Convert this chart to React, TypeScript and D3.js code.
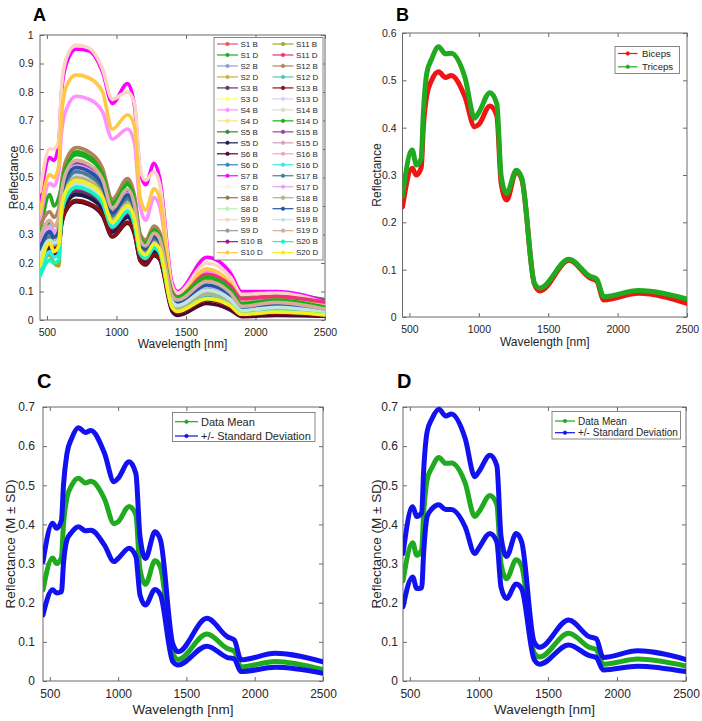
import { useEffect, useRef } from 'react';
import * as d3 from 'd3';

// ---- panel A: every subject / site spectrum ----
const wavelengthsA = [450, 520, 550, 585, 605, 640, 710, 800, 900, 970, 1080, 1130, 1170, 1210, 1270, 1310, 1400, 1440, 1650, 1820, 1900, 2150, 2500];

const seriesNamesA = [
  'S1 B', 'S1 D', 'S2 B', 'S2 D', 'S3 B', 'S3 D', 'S4 B', 'S4 D', 'S5 B', 'S5 D',
  'S6 B', 'S6 D', 'S7 B', 'S7 D', 'S8 B', 'S8 D', 'S9 B', 'S9 D', 'S10 B', 'S10 D',
  'S11 B', 'S11 D', 'S12 B', 'S12 D', 'S13 B', 'S13 D', 'S14 B', 'S14 D', 'S15 B', 'S15 D',
  'S16 B', 'S16 D', 'S17 B', 'S17 D', 'S18 B', 'S18 D', 'S19 B', 'S19 D', 'S20 B', 'S20 D',
];

const reflectanceA = [
  [0.24, 0.32, 0.30, 0.32, 0.432, 0.502, 0.54, 0.527, 0.475, 0.378, 0.443, 0.389, 0.27, 0.251, 0.294, 0.275, 0.085, 0.07, 0.135, 0.095, 0.048, 0.062, 0.038],
  [0.30, 0.44, 0.40, 0.43, 0.472, 0.549, 0.59, 0.575, 0.519, 0.413, 0.484, 0.425, 0.295, 0.274, 0.322, 0.301, 0.11, 0.095, 0.16, 0.125, 0.085, 0.09, 0.072],
  [0.24, 0.31, 0.29, 0.31, 0.40, 0.465, 0.50, 0.488, 0.44, 0.35, 0.41, 0.36, 0.25, 0.233, 0.273, 0.255, 0.066, 0.051, 0.106, 0.072, 0.034, 0.046, 0.027],
  [0.23, 0.30, 0.28, 0.31, 0.416, 0.484, 0.52, 0.507, 0.458, 0.364, 0.426, 0.374, 0.26, 0.242, 0.283, 0.265, 0.064, 0.049, 0.104, 0.071, 0.032, 0.044, 0.026],
  [0.20, 0.25, 0.24, 0.25, 0.36, 0.419, 0.45, 0.439, 0.396, 0.315, 0.369, 0.324, 0.225, 0.209, 0.245, 0.23, 0.045, 0.03, 0.075, 0.05, 0.02, 0.028, 0.018],
  [0.20, 0.26, 0.25, 0.26, 0.384, 0.446, 0.48, 0.468, 0.422, 0.336, 0.394, 0.346, 0.24, 0.223, 0.262, 0.245, 0.056, 0.041, 0.091, 0.061, 0.027, 0.037, 0.022],
  [0.35, 0.48, 0.47, 0.52, 0.66, 0.74, 0.785, 0.775, 0.73, 0.635, 0.67, 0.62, 0.40, 0.35, 0.43, 0.40, 0.12, 0.09, 0.17, 0.125, 0.07, 0.075, 0.055],
  [0.22, 0.29, 0.28, 0.29, 0.404, 0.47, 0.505, 0.492, 0.444, 0.354, 0.414, 0.364, 0.253, 0.235, 0.275, 0.258, 0.065, 0.05, 0.105, 0.072, 0.033, 0.045, 0.027],
  [0.19, 0.25, 0.23, 0.24, 0.376, 0.437, 0.47, 0.458, 0.414, 0.329, 0.385, 0.338, 0.235, 0.219, 0.256, 0.24, 0.054, 0.039, 0.089, 0.059, 0.026, 0.035, 0.021],
  [0.19, 0.24, 0.23, 0.24, 0.352, 0.409, 0.44, 0.429, 0.387, 0.308, 0.361, 0.317, 0.22, 0.205, 0.24, 0.224, 0.044, 0.029, 0.073, 0.049, 0.019, 0.027, 0.017],
  [0.20, 0.25, 0.24, 0.25, 0.332, 0.386, 0.415, 0.405, 0.365, 0.291, 0.34, 0.299, 0.208, 0.193, 0.226, 0.212, 0.03, 0.016, 0.058, 0.035, 0.012, 0.016, 0.013],
  [0.23, 0.30, 0.28, 0.30, 0.408, 0.474, 0.51, 0.497, 0.449, 0.357, 0.418, 0.367, 0.255, 0.237, 0.278, 0.26, 0.067, 0.052, 0.108, 0.074, 0.035, 0.047, 0.028],
  [0.41, 0.57, 0.56, 0.62, 0.80, 0.90, 0.95, 0.945, 0.87, 0.76, 0.83, 0.75, 0.52, 0.475, 0.55, 0.50, 0.13, 0.10, 0.22, 0.165, 0.10, 0.10, 0.065],
  [0.27, 0.33, 0.32, 0.34, 0.44, 0.512, 0.55, 0.536, 0.484, 0.385, 0.451, 0.396, 0.275, 0.256, 0.30, 0.281, 0.075, 0.06, 0.12, 0.083, 0.04, 0.053, 0.032],
  [0.21, 0.27, 0.25, 0.27, 0.384, 0.446, 0.48, 0.468, 0.422, 0.336, 0.394, 0.346, 0.24, 0.223, 0.262, 0.245, 0.055, 0.04, 0.09, 0.06, 0.027, 0.036, 0.022],
  [0.24, 0.31, 0.29, 0.31, 0.416, 0.484, 0.52, 0.507, 0.458, 0.364, 0.426, 0.374, 0.26, 0.242, 0.283, 0.265, 0.074, 0.059, 0.118, 0.082, 0.039, 0.052, 0.031],
  [0.45, 0.60, 0.60, 0.63, 0.82, 0.92, 0.965, 0.955, 0.88, 0.775, 0.80, 0.76, 0.53, 0.49, 0.52, 0.48, 0.12, 0.095, 0.20, 0.15, 0.09, 0.095, 0.06],
  [0.21, 0.28, 0.26, 0.28, 0.392, 0.456, 0.49, 0.478, 0.431, 0.343, 0.402, 0.353, 0.245, 0.228, 0.267, 0.25, 0.057, 0.042, 0.092, 0.062, 0.028, 0.038, 0.023],
  [0.20, 0.26, 0.24, 0.25, 0.368, 0.428, 0.46, 0.449, 0.405, 0.322, 0.377, 0.331, 0.23, 0.214, 0.251, 0.235, 0.053, 0.038, 0.088, 0.058, 0.025, 0.034, 0.021],
  [0.37, 0.51, 0.50, 0.54, 0.72, 0.82, 0.86, 0.85, 0.80, 0.67, 0.72, 0.68, 0.43, 0.385, 0.46, 0.43, 0.10, 0.08, 0.18, 0.13, 0.075, 0.08, 0.045],
  [0.18, 0.23, 0.20, 0.19, 0.376, 0.437, 0.47, 0.458, 0.414, 0.329, 0.385, 0.338, 0.235, 0.219, 0.256, 0.24, 0.056, 0.041, 0.091, 0.061, 0.028, 0.037, 0.023],
  [0.25, 0.30, 0.29, 0.31, 0.424, 0.493, 0.53, 0.517, 0.466, 0.371, 0.435, 0.382, 0.265, 0.246, 0.289, 0.27, 0.10, 0.08, 0.16, 0.12, 0.075, 0.082, 0.062],
  [0.33, 0.38, 0.36, 0.39, 0.484, 0.563, 0.605, 0.59, 0.532, 0.424, 0.496, 0.436, 0.303, 0.281, 0.33, 0.309, 0.088, 0.072, 0.138, 0.097, 0.05, 0.064, 0.04],
  [0.21, 0.28, 0.27, 0.28, 0.396, 0.46, 0.495, 0.483, 0.436, 0.347, 0.406, 0.356, 0.248, 0.23, 0.27, 0.252, 0.063, 0.048, 0.103, 0.07, 0.032, 0.044, 0.026],
  [0.21, 0.26, 0.25, 0.26, 0.336, 0.391, 0.42, 0.41, 0.37, 0.294, 0.344, 0.302, 0.21, 0.195, 0.229, 0.214, 0.04, 0.025, 0.07, 0.045, 0.017, 0.024, 0.016],
  [0.25, 0.31, 0.30, 0.31, 0.408, 0.474, 0.51, 0.497, 0.449, 0.357, 0.418, 0.367, 0.255, 0.237, 0.278, 0.26, 0.073, 0.058, 0.117, 0.081, 0.039, 0.051, 0.031],
  [0.23, 0.29, 0.28, 0.30, 0.40, 0.465, 0.50, 0.488, 0.44, 0.35, 0.41, 0.36, 0.25, 0.233, 0.273, 0.255, 0.065, 0.05, 0.105, 0.072, 0.033, 0.045, 0.027],
  [0.26, 0.34, 0.30, 0.33, 0.464, 0.539, 0.58, 0.566, 0.51, 0.406, 0.476, 0.418, 0.29, 0.27, 0.316, 0.296, 0.095, 0.08, 0.15, 0.107, 0.058, 0.07, 0.045],
  [0.25, 0.31, 0.30, 0.31, 0.44, 0.512, 0.55, 0.536, 0.484, 0.385, 0.451, 0.396, 0.275, 0.256, 0.30, 0.281, 0.076, 0.061, 0.121, 0.084, 0.041, 0.054, 0.033],
  [0.22, 0.29, 0.27, 0.29, 0.392, 0.456, 0.49, 0.478, 0.431, 0.343, 0.402, 0.353, 0.245, 0.228, 0.267, 0.25, 0.064, 0.049, 0.104, 0.071, 0.032, 0.044, 0.026],
  [0.26, 0.32, 0.30, 0.32, 0.424, 0.493, 0.53, 0.517, 0.466, 0.371, 0.435, 0.382, 0.265, 0.246, 0.289, 0.27, 0.077, 0.062, 0.122, 0.085, 0.042, 0.055, 0.034],
  [0.17, 0.24, 0.22, 0.23, 0.376, 0.437, 0.47, 0.458, 0.414, 0.329, 0.385, 0.338, 0.235, 0.219, 0.256, 0.24, 0.055, 0.04, 0.09, 0.06, 0.027, 0.036, 0.022],
  [0.22, 0.29, 0.27, 0.29, 0.416, 0.484, 0.52, 0.507, 0.458, 0.364, 0.426, 0.374, 0.26, 0.242, 0.283, 0.265, 0.066, 0.051, 0.106, 0.073, 0.034, 0.046, 0.028],
  [0.26, 0.33, 0.31, 0.33, 0.432, 0.502, 0.54, 0.527, 0.475, 0.378, 0.443, 0.389, 0.27, 0.251, 0.294, 0.275, 0.075, 0.06, 0.12, 0.083, 0.04, 0.053, 0.032],
  [0.22, 0.28, 0.27, 0.29, 0.40, 0.465, 0.50, 0.488, 0.44, 0.35, 0.41, 0.36, 0.25, 0.233, 0.273, 0.255, 0.058, 0.043, 0.093, 0.063, 0.029, 0.039, 0.024],
  [0.25, 0.31, 0.29, 0.31, 0.428, 0.498, 0.535, 0.522, 0.471, 0.375, 0.439, 0.385, 0.268, 0.249, 0.292, 0.273, 0.078, 0.063, 0.123, 0.086, 0.042, 0.055, 0.033],
  [0.22, 0.28, 0.27, 0.28, 0.384, 0.446, 0.48, 0.468, 0.422, 0.336, 0.394, 0.346, 0.24, 0.223, 0.262, 0.245, 0.065, 0.05, 0.105, 0.072, 0.033, 0.045, 0.027],
  [0.29, 0.35, 0.33, 0.36, 0.448, 0.521, 0.56, 0.546, 0.493, 0.392, 0.459, 0.403, 0.28, 0.26, 0.305, 0.286, 0.085, 0.07, 0.135, 0.095, 0.048, 0.062, 0.038],
  [0.155, 0.21, 0.20, 0.21, 0.372, 0.432, 0.465, 0.453, 0.409, 0.326, 0.381, 0.335, 0.233, 0.216, 0.253, 0.237, 0.046, 0.031, 0.076, 0.051, 0.021, 0.029, 0.019],
  [0.19, 0.27, 0.24, 0.26, 0.392, 0.456, 0.49, 0.478, 0.431, 0.343, 0.402, 0.353, 0.245, 0.228, 0.267, 0.25, 0.045, 0.03, 0.075, 0.05, 0.02, 0.028, 0.018],
];

// ---- panels B-D: group means and +/- SD ----
const wavelengths = [450, 520, 550, 585, 600, 625, 660, 710, 760, 800, 900, 970, 1000, 1080, 1130, 1160, 1200, 1270, 1310, 1400, 1440, 1650, 1800, 1850, 1900, 2150, 2500];
const biceps = [0.233, 0.314, 0.3, 0.316, 0.4, 0.468, 0.5, 0.518, 0.506, 0.51, 0.465, 0.402, 0.407, 0.446, 0.425, 0.285, 0.247, 0.307, 0.29, 0.07, 0.055, 0.12, 0.083, 0.076, 0.036, 0.05, 0.029];
const triceps = [0.256, 0.353, 0.321, 0.335, 0.43, 0.515, 0.545, 0.571, 0.556, 0.557, 0.506, 0.42, 0.432, 0.474, 0.45, 0.3, 0.261, 0.31, 0.293, 0.072, 0.061, 0.122, 0.086, 0.08, 0.043, 0.056, 0.038];
const bicepsUpper = [0.305, 0.403, 0.39, 0.41, 0.5, 0.58, 0.62, 0.647, 0.635, 0.64, 0.582, 0.509, 0.518, 0.56, 0.53, 0.37, 0.313, 0.381, 0.36, 0.095, 0.075, 0.16, 0.113, 0.105, 0.054, 0.071, 0.049];
const bicepsLower = [0.169, 0.233, 0.225, 0.228, 0.3, 0.36, 0.38, 0.394, 0.384, 0.385, 0.347, 0.305, 0.313, 0.339, 0.318, 0.22, 0.194, 0.234, 0.22, 0.05, 0.041, 0.089, 0.06, 0.056, 0.024, 0.035, 0.02];
const tricepsUpper = [0.326, 0.445, 0.42, 0.43, 0.54, 0.637, 0.67, 0.694, 0.677, 0.682, 0.62, 0.522, 0.535, 0.577, 0.55, 0.37, 0.318, 0.377, 0.355, 0.1, 0.086, 0.156, 0.113, 0.108, 0.06, 0.077, 0.055];
const tricepsLower = [0.19, 0.266, 0.236, 0.238, 0.33, 0.42, 0.44, 0.45, 0.438, 0.438, 0.394, 0.326, 0.34, 0.377, 0.355, 0.24, 0.211, 0.248, 0.235, 0.055, 0.043, 0.092, 0.065, 0.06, 0.028, 0.038, 0.024];

const xTicks = [500, 1000, 1500, 2000, 2500];
const yTicksA = [0, 0.1, 0.2, 0.3, 0.4, 0.5, 0.6, 0.7, 0.8, 0.9, 1];
const yTicksB = [0, 0.1, 0.2, 0.3, 0.4, 0.5, 0.6];
const yTicksCD = [0, 0.1, 0.2, 0.3, 0.4, 0.5, 0.6, 0.7];

const PALETTE_A = [
  '#e8575a', '#22a822', '#9a9ad6', '#c8b04a', '#5a3a5e', '#ffff70', '#ff90ff', '#ffe080', '#3f7f3f', '#1c1c52',
  '#4a0634', '#2f87b5', '#ff00ff', '#f6f3ec', '#8c7a48', '#b8f2b8', '#fbd4c4', '#9a9a9a', '#a01882', '#ffc847',
  '#a0a828', '#f0307a', '#b08258', '#52c8b0', '#8a1010', '#d2d2fa', '#dcdcc0', '#18b018', '#9a40a0', '#d4a2b4',
  '#f7a0c8', '#30e8f0', '#4a7e8e', '#e4a0f8', '#b2b282', '#2454a8', '#c0e4e4', '#d4ae98', '#10f8c0', '#f4f020',
];
const RED = '#f01414';
const GREEN = '#1faa1f';
const BLUE = '#1212f0';
const FONT = '"Liberation Sans", Arial, Helvetica, sans-serif';
const INK = '#262626';
const FRAME = '#6a6a6a';

type Sel = d3.Selection<SVGGElement, unknown, null, undefined>;

interface PanelSpec {
  id: string;
  letter: string;
  letterX: number;
  letterY: number;
  letterSize: number;
  left: number;
  right: number;
  top: number;
  bottom: number;
  yMax: number;
  yTicks: number[];
  tickFont: number;
  labelFont: number;
  xPad: number;
  yPad: number;
  yLabel: string;
  yLabelX: number;
  xLabelY: number;
}

function drawFrame(root: d3.Selection<SVGSVGElement, unknown, null, undefined>, p: PanelSpec) {
  const x = d3.scaleLinear().domain([450, 2500]).range([p.left, p.right]);
  const y = d3.scaleLinear().domain([0, p.yMax]).range([p.bottom, p.top]);
  const g = root.append('g');

  g.append('clipPath')
    .attr('id', `clip-${p.id}`)
    .append('rect')
    .attr('x', p.left)
    .attr('y', p.top - 2)
    .attr('width', p.right - p.left)
    .attr('height', p.bottom - p.top + 2);

  const fmt = (d: d3.NumberValue) => String(+d);
  const style = (a: Sel) => {
    a.select('.domain').remove();
    a.selectAll('line').attr('stroke', FRAME);
    a.selectAll('text').attr('fill', INK).style('font-family', FONT).style('font-size', `${p.tickFont}px`);
  };

  g.append('g')
    .attr('transform', `translate(0,${p.bottom})`)
    .call(d3.axisBottom(x).tickValues(xTicks).tickSizeInner(-4).tickSizeOuter(0).tickPadding(p.xPad).tickFormat(fmt))
    .call(style);
  g.append('g')
    .attr('transform', `translate(0,${p.top})`)
    .call(d3.axisTop(x).tickValues(xTicks).tickSizeInner(-4).tickSizeOuter(0).tickFormat(() => ''))
    .call(style);
  g.append('g')
    .attr('transform', `translate(${p.left},0)`)
    .call(d3.axisLeft(y).tickValues(p.yTicks).tickSizeInner(-4).tickSizeOuter(0).tickPadding(p.yPad).tickFormat(fmt))
    .call(style);
  g.append('g')
    .attr('transform', `translate(${p.right},0)`)
    .call(d3.axisRight(y).tickValues(p.yTicks).tickSizeInner(-4).tickSizeOuter(0).tickFormat(() => ''))
    .call(style);

  g.append('rect')
    .attr('x', p.left)
    .attr('y', p.top)
    .attr('width', p.right - p.left)
    .attr('height', p.bottom - p.top)
    .attr('fill', 'none')
    .attr('stroke', FRAME)
    .attr('stroke-width', 1);

  g.append('text')
    .attr('x', (p.left + p.right) / 2)
    .attr('y', p.xLabelY)
    .attr('text-anchor', 'middle')
    .attr('fill', INK)
    .style('font-family', FONT)
    .style('font-size', `${p.labelFont}px`)
    .text('Wavelength [nm]');

  g.append('text')
    .attr('transform', `translate(${p.yLabelX},${(p.top + p.bottom) / 2}) rotate(-90)`)
    .attr('text-anchor', 'middle')
    .attr('fill', INK)
    .style('font-family', FONT)
    .style('font-size', `${p.labelFont}px`)
    .text(p.yLabel);

  g.append('text')
    .attr('x', p.letterX)
    .attr('y', p.letterY)
    .attr('fill', '#000')
    .style('font-family', FONT)
    .style('font-weight', 'bold')
    .style('font-size', `${p.letterSize}px`)
    .text(p.letter);

  const plot = g.append('g').attr('clip-path', `url(#clip-${p.id})`);
  return { x, y, g, plot };
}

function drawSeries(plot: Sel, x: d3.ScaleLinear<number, number>, y: d3.ScaleLinear<number, number>, wl: number[], values: number[], color: string, width: number) {
  const line = d3
    .line<number>()
    .x((_, i) => x(wl[i]))
    .y((d) => y(d))
    .curve(d3.curveMonotoneX);
  plot.append('path')
    .datum(values)
    .attr('fill', 'none')
    .attr('stroke', color)
    .attr('stroke-width', width)
    .attr('stroke-linejoin', 'round')
    .attr('stroke-linecap', 'round')
    .attr('d', line);
}

interface LegendLayout {
  boxX: number;
  boxY: number;
  boxW: number;
  boxH: number;
  rowY0: number;
  rowStep: number;
  rowsPerCol: number;
  colX: number[];
  lineLen: number;
  textGap: number;
  font: number;
}

function drawLegend(g: Sel, labels: string[], colors: string[], l: LegendLayout) {
  g.append('rect')
    .attr('x', l.boxX)
    .attr('y', l.boxY)
    .attr('width', l.boxW)
    .attr('height', l.boxH)
    .attr('fill', '#fff')
    .attr('stroke', FRAME)
    .attr('stroke-width', 0.8);
  labels.forEach((label, i) => {
    const col = Math.floor(i / l.rowsPerCol);
    const row = i % l.rowsPerCol;
    const x0 = l.colX[col];
    const yy = l.rowY0 + row * l.rowStep;
    const item = g.append('g').attr('transform', `translate(${x0},${yy})`);
    item.append('line')
      .attr('x1', 0)
      .attr('x2', l.lineLen)
      .attr('stroke', colors[i])
      .attr('stroke-width', 1.2);
    item.append('circle')
      .attr('cx', l.lineLen / 2)
      .attr('r', 1.8)
      .attr('fill', colors[i])
      .attr('stroke', colors[i])
      .attr('stroke-width', 0.6);
    item.append('text')
      .attr('x', l.lineLen + l.textGap)
      .attr('dy', '0.35em')
      .attr('fill', INK)
      .style('font-family', FONT)
      .style('font-size', `${l.font}px`)
      .text(label);
  });
}

const PANEL_A: PanelSpec = {
  id: 'a', letter: 'A', letterX: 33, letterY: 20.5, letterSize: 18,
  left: 40, right: 325, top: 35, bottom: 320, yMax: 1, yTicks: yTicksA,
  tickFont: 10.5, labelFont: 12, xPad: 8.5, yPad: 6.5,
  yLabel: 'Reflectance', yLabelX: 18, xLabelY: 348,
};
const PANEL_B: PanelSpec = {
  id: 'b', letter: 'B', letterX: 396, letterY: 20.5, letterSize: 18,
  left: 402.5, right: 687, top: 33, bottom: 317, yMax: 0.6, yTicks: yTicksB,
  tickFont: 10.5, labelFont: 12, xPad: 8.5, yPad: 6,
  yLabel: 'Reflectance', yLabelX: 381, xLabelY: 346,
};
const PANEL_C: PanelSpec = {
  id: 'c', letter: 'C', letterX: 37, letterY: 388, letterSize: 20,
  left: 43, right: 323, top: 407, bottom: 681, yMax: 0.7, yTicks: yTicksCD,
  tickFont: 12, labelFont: 13.5, xPad: 8.5, yPad: 8,
  yLabel: 'Reflectance (M \u00b1 SD)', yLabelX: 15, xLabelY: 714,
};
const PANEL_D: PanelSpec = {
  id: 'd', letter: 'D', letterX: 397, letterY: 388, letterSize: 20,
  left: 403, right: 686, top: 407, bottom: 681, yMax: 0.7, yTicks: yTicksCD,
  tickFont: 12, labelFont: 13.5, xPad: 8.5, yPad: 5,
  yLabel: 'Reflectance (M \u00b1 SD)', yLabelX: 381, xLabelY: 714,
};

export default function App() {
  const svgRef = useRef<SVGSVGElement>(null);

  useEffect(() => {
    document.body.style.margin = '0';
    if (!svgRef.current) return;
    const svg = d3.select(svgRef.current);
    svg.selectAll('*').remove();

    // A
    const a = drawFrame(svg, PANEL_A);
    reflectanceA.forEach((vals, i) => drawSeries(a.plot, a.x, a.y, wavelengthsA, vals, PALETTE_A[i], 3.6));
    drawLegend(a.g, seriesNamesA, PALETTE_A, {
      boxX: 214, boxY: 37.5, boxW: 109, boxH: 222.5, rowY0: 44, rowStep: 10.98, rowsPerCol: 20,
      colX: [217, 272.5], lineLen: 21, textGap: 2.5, font: 8,
    });

    // B
    const b = drawFrame(svg, PANEL_B);
    drawSeries(b.plot, b.x, b.y, wavelengths, biceps, RED, 5);
    drawSeries(b.plot, b.x, b.y, wavelengths, triceps, GREEN, 5);
    drawLegend(b.g, ['Biceps', 'Triceps'], [RED, GREEN], {
      boxX: 615, boxY: 46.5, boxW: 64.5, boxH: 27, rowY0: 53.5, rowStep: 13.3, rowsPerCol: 2,
      colX: [618], lineLen: 19.5, textGap: 4.5, font: 9.6,
    });

    // C
    const c = drawFrame(svg, PANEL_C);
    drawSeries(c.plot, c.x, c.y, wavelengths, biceps, GREEN, 5);
    drawSeries(c.plot, c.x, c.y, wavelengths, bicepsUpper, BLUE, 5);
    drawSeries(c.plot, c.x, c.y, wavelengths, bicepsLower, BLUE, 5);
    drawLegend(c.g, ['Data Mean', '+/- Standard Deviation'], [GREEN, BLUE], {
      boxX: 172.5, boxY: 412.5, boxW: 142.5, boxH: 29, rowY0: 421.7, rowStep: 14.3, rowsPerCol: 2,
      colX: [175], lineLen: 23, textGap: 3, font: 11,
    });

    // D
    const d = drawFrame(svg, PANEL_D);
    drawSeries(d.plot, d.x, d.y, wavelengths, triceps, GREEN, 5);
    drawSeries(d.plot, d.x, d.y, wavelengths, tricepsUpper, BLUE, 5);
    drawSeries(d.plot, d.x, d.y, wavelengths, tricepsLower, BLUE, 5);
    drawLegend(d.g, ['Data Mean', '+/- Standard Deviation'], [GREEN, BLUE], {
      boxX: 552, boxY: 411.5, boxW: 128.5, boxH: 27.5, rowY0: 421, rowStep: 11.7, rowsPerCol: 2,
      colX: [555], lineLen: 20, textGap: 3, font: 10,
    });
  }, []);

  return <svg ref={svgRef} width={702} height={721} style={{ display: 'block', background: '#fff' }} />;
}
